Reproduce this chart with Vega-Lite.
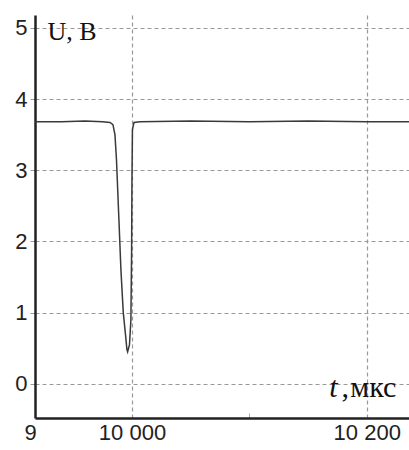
{
  "$schema": "https://vega.github.io/schema/vega-lite/v6.json",
  "width": 374,
  "height": 403,
  "autosize": {"type": "none"},
  "padding": {"left": 35, "top": 15, "right": 0, "bottom": 32},
  "background": "white",
  "config": {"view": {"stroke": null}},
  "datasets": {
    "signal": [
      {"t": 9917.4, "u": 3.68},
      {"t": 9940, "u": 3.68},
      {"t": 9960, "u": 3.69},
      {"t": 9975, "u": 3.68},
      {"t": 9981.3, "u": 3.67},
      {"t": 9983.8, "u": 3.64},
      {"t": 9985.5, "u": 3.5},
      {"t": 9986.8, "u": 3.15},
      {"t": 9988.9, "u": 2.3},
      {"t": 9990.6, "u": 1.6},
      {"t": 9992.6, "u": 1.0},
      {"t": 9994.5, "u": 0.69},
      {"t": 9995.7, "u": 0.48},
      {"t": 9996.3, "u": 0.45},
      {"t": 9997.9, "u": 0.55},
      {"t": 9999.1, "u": 0.9},
      {"t": 9999.7, "u": 1.88},
      {"t": 10000, "u": 2.87},
      {"t": 10000.4, "u": 3.57},
      {"t": 10001.7, "u": 3.67},
      {"t": 10006.8, "u": 3.68},
      {"t": 10050, "u": 3.69},
      {"t": 10100, "u": 3.68},
      {"t": 10150, "u": 3.69},
      {"t": 10200, "u": 3.68},
      {"t": 10236, "u": 3.68}
    ]
  },
  "layer": [
    {
      "data": {"name": "signal"},
      "mark": {"type": "line", "color": "#3a3a3a", "strokeWidth": 1.5, "interpolate": "linear"},
      "encoding": {
        "x": {
          "field": "t", "type": "quantitative",
          "scale": {"domain": [9917.4, 10236], "nice": false, "zero": false},
          "axis": {
            "title": null,
            "values": [9917.4, 10000, 10100, 10200],
            "labelExpr": "datum.value == 10000 ? '10 000' : datum.value == 10200 ? '10 200' : datum.value < 9950 ? '9' : ''",
            "labelFont": "Liberation Sans",
            "labelFontSize": 22,
            "labelColor": "#222222",
            "labelPadding": 9,
            "labelFlush": false,
            "labelOverlap": false,
            "labelOffset": {"condition": {"test": "datum.value < 9950", "value": -5}, "value": 0},
            "domainColor": "#222222",
            "domainWidth": 2.5,
            "ticks": true,
            "tickSize": -5,
            "tickColor": "#aaaaaa",
            "tickOpacity": {"condition": {"test": "datum.value == 10100", "value": 1}, "value": 0},
            "grid": true,
            "gridColor": "#999999",
            "gridDash": [4, 3],
            "gridWidth": 1.2,
            "gridOpacity": {"condition": {"test": "datum.value == 10000 || datum.value == 10200", "value": 1}, "value": 0}
          }
        },
        "y": {
          "field": "u", "type": "quantitative",
          "scale": {"domain": [-0.48, 5.18], "nice": false, "zero": false},
          "axis": {
            "title": null,
            "values": [0, 1, 2, 3, 4, 5],
            "format": "d",
            "labelFont": "Liberation Sans",
            "labelFontSize": 22,
            "labelColor": "#222222",
            "labelPadding": 3,
            "domainColor": "#222222",
            "domainWidth": 2.5,
            "tickSize": 5,
            "tickColor": "#999999",
            "grid": true,
            "gridColor": "#999999",
            "gridDash": [4, 3],
            "gridWidth": 1.2
          }
        }
      }
    },
    {
      "data": {"values": [{"t": 9928, "u": 4.83, "txt": "U, B"}]},
      "mark": {"type": "text", "font": "Liberation Serif", "fontSize": 26, "align": "left", "baseline": "alphabetic", "color": "#111111"},
      "encoding": {
        "x": {"field": "t", "type": "quantitative"},
        "y": {"field": "u", "type": "quantitative"},
        "text": {"field": "txt"}
      }
    },
    {
      "data": {"values": [{"t": 10168, "u": -0.18, "txt": "t"}]},
      "mark": {"type": "text", "font": "Liberation Serif", "fontSize": 30, "fontStyle": "italic", "align": "left", "baseline": "alphabetic", "color": "#111111"},
      "encoding": {
        "x": {"field": "t", "type": "quantitative"},
        "y": {"field": "u", "type": "quantitative"},
        "text": {"field": "txt"}
      }
    },
    {
      "data": {"values": [{"t": 10178.5, "u": -0.18, "txt": ","}, {"t": 10186, "u": -0.18, "txt": "мкс"}]},
      "mark": {"type": "text", "font": "Liberation Serif", "fontSize": 30, "align": "left", "baseline": "alphabetic", "color": "#111111"},
      "encoding": {
        "x": {"field": "t", "type": "quantitative"},
        "y": {"field": "u", "type": "quantitative"},
        "text": {"field": "txt"}
      }
    }
  ]
}
